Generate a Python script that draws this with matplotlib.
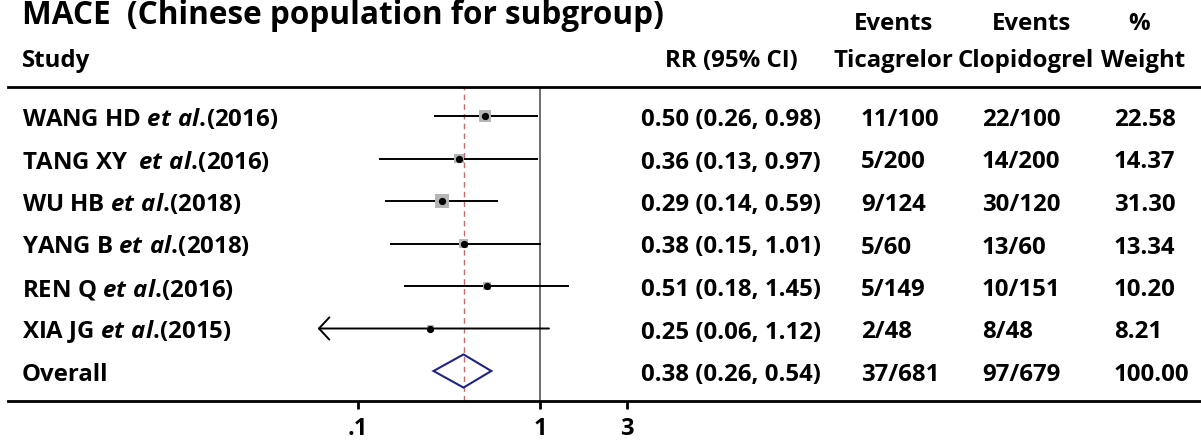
import matplotlib
matplotlib.use("Agg")
import matplotlib.pyplot as plt
import matplotlib.transforms as mtransforms
from matplotlib.patches import Polygon
from matplotlib.ticker import NullLocator
import numpy as np

FONT = 'Open Sans'
plt.rcParams['font.family'] = [FONT, 'DejaVu Sans']
plt.rcParams['mathtext.fontset'] = 'custom'
plt.rcParams['mathtext.it'] = FONT + ':style=italic:weight=bold'
plt.rcParams['mathtext.rm'] = FONT + ':weight=bold'

# ---------------- data ----------------
title = "MACE  (Chinese population for subgroup)"
study_names = ["WANG HD", "TANG XY ", "WU HB", "YANG B", "REN Q", "XIA JG"]
study_years = ["2016", "2016", "2018", "2018", "2016", "2015"]
rr = [0.50, 0.36, 0.29, 0.38, 0.51, 0.25]
ci_low = [0.26, 0.13, 0.14, 0.15, 0.18, 0.06]
ci_high = [0.98, 0.97, 0.59, 1.01, 1.45, 1.12]
events_ticagrelor = ["11/100", "5/200", "9/124", "5/60", "5/149", "2/48"]
events_clopidogrel = ["22/100", "14/200", "30/120", "13/60", "10/151", "8/48"]
weights = [22.58, 14.37, 31.30, 13.34, 10.20, 8.21]
overall_label = "Overall"
overall_rr = 0.38
overall_low = 0.26
overall_high = 0.54
overall_ticagrelor = "37/681"
overall_clopidogrel = "97/679"
overall_weight = 100.00
xticks = [0.1, 1, 3]
xticklabels = [".1", "1", "3"]

# ---------------- layout ----------------
W, H = 1201, 441
ROW0_PX, ROW_PX = 116.0, 42.5       # pixel y of first row, row spacing
AX_TOP_PX, AX_BOT_PX = 87.0, 400.7
ONE_PX, DECADE_PX = 540.0, 182.0
AX_LEFT_PX = 8.0

def prow(px):
    return (px - ROW0_PX) / ROW_PX

fig = plt.figure(figsize=(W / 100, H / 100), dpi=100)
ax = fig.add_axes([AX_LEFT_PX / W, (H - AX_BOT_PX) / H, 1 - AX_LEFT_PX / W,
                   (AX_BOT_PX - AX_TOP_PX) / H])
ax.set_xscale('log')
ax.set_xlim(10 ** ((AX_LEFT_PX - ONE_PX) / DECADE_PX), 10 ** ((W - ONE_PX) / DECADE_PX))
ax.set_ylim(prow(AX_BOT_PX), prow(AX_TOP_PX))
for s in ['left', 'right']:
    ax.spines[s].set_visible(False)
for s in ['top', 'bottom']:
    ax.spines[s].set_linewidth(2.0)
ax.set_yticks([])
ax.set_xticks(xticks)
ax.set_xticklabels(xticklabels, fontweight='bold', fontsize=17)
ax.xaxis.set_minor_locator(NullLocator())
ax.tick_params(axis='x', direction='out', length=6, width=2, pad=5.5)
ax.set_facecolor('white')

n = len(rr)
rows = np.arange(n)
overall_row = n

# reference lines
ax.axvline(1, color='#555555', lw=1.2, zorder=1)
ax.axvline(overall_rr, color='#c46a6a', lw=1.0, ls=(0, (4, 3)), zorder=1)

# CI lines
for i in range(n):
    if ci_low[i] < xticks[0] * 0.7:
        ax.annotate('', xy=(ci_low[i], rows[i]), xytext=(ci_high[i], rows[i]),
                    arrowprops=dict(arrowstyle='->,head_length=0.75,head_width=0.8',
                                    lw=1.4, color='black', shrinkA=0, shrinkB=0,
                                    mutation_scale=10), zorder=2)
    else:
        ax.plot([ci_low[i], ci_high[i]], [rows[i], rows[i]], color='black', lw=1.4,
                zorder=2, solid_capstyle='butt')

# weight boxes + point estimates
ax.scatter(rr, rows, marker='s', s=[3.4 * w for w in weights], color='#b5b5b5',
           edgecolors='none', zorder=3)
ax.plot(rr, rows, 'o', color='black', ms=4.2, zorder=4)

# overall diamond
half_h = 0.39
diamond = Polygon([(overall_low, overall_row), (overall_rr, overall_row - half_h),
                   (overall_high, overall_row), (overall_rr, overall_row + half_h)],
                  closed=True, fill=False, edgecolor='#1f2580', lw=1.5, zorder=4)
ax.add_patch(diamond)

# ---------------- text ----------------
trans = mtransforms.blended_transform_factory(fig.transFigure, ax.transData)
FS = 17.3
def put(xpx, y, s, ha='left', size=FS, **kw):
    ax.text(xpx / W, y, s, transform=trans, ha=ha, va='baseline', fontsize=size,
            fontweight='bold', clip_on=False, **kw)

fig.text(22 / W, 1 - 24.5 / H, title, fontsize=22.7, fontweight='bold', va='baseline')

h1 = prow(30)
h2 = prow(67)
put(22, h2, "Study")
put(798, h2, "RR (95% CI)", ha='right')
put(894, h1, "Events", ha='center')
put(893, h2, "Ticagrelor", ha='center')
put(1032, h1, "Events", ha='center')
put(1026, h2, "Clopidogrel", ha='center')
put(1139, h1, "%", ha='center')
put(1143, h2, "Weight", ha='center')

off = 10 / ROW_PX
for i in range(n):
    y = rows[i] + off
    put(22, y, study_names[i] + r" $\mathit{et\ al.}\!$(" + study_years[i] + ")")
    put(641, y, f"{rr[i]:.2f} ({ci_low[i]:.2f}, {ci_high[i]:.2f})")
    put(861, y, events_ticagrelor[i])
    put(982, y, events_clopidogrel[i])
    put(1114, y, f"{weights[i]:.2f}")

y = overall_row + off
put(22, y, overall_label)
put(641, y, f"{overall_rr:.2f} ({overall_low:.2f}, {overall_high:.2f})")
put(861, y, overall_ticagrelor)
put(982, y, overall_clopidogrel)
put(1114, y, f"{overall_weight:.2f}")

fig.savefig("out.png", dpi=100, facecolor='white')
